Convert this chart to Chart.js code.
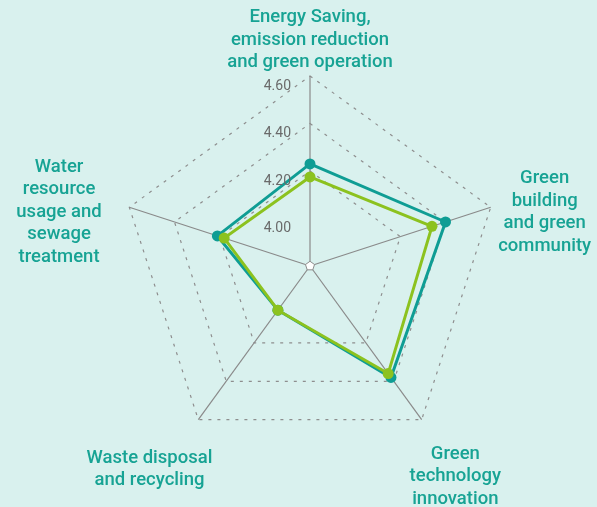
<!DOCTYPE html>
<html>
<head>
<meta charset="utf-8">
<script src="https://cdn.jsdelivr.net/npm/chart.js@4"></script>
<style>
html, body { margin: 0; padding: 0; background: #d9f1ee; }
#wrap { width: 597px; height: 507px; position: relative; }
</style>
</head>
<body>
<div id="wrap"><canvas id="radarChart"></canvas></div>
<script>
const categories = [
    ['Energy Saving,', 'emission reduction', 'and green operation'],
    ['Green', 'building', 'and green', 'community'],
    ['Green', 'technology', 'innovation'],
    ['Waste disposal', 'and recycling'],
    ['Water', 'resource', 'usage and', 'sewage', 'treatment']
];
const tealValues = [4.23, 4.40, 4.38, 4.03, 4.21];
const greenValues = [4.175, 4.34, 4.36, 4.03, 4.18];
const tickValues = [4.00, 4.20, 4.40, 4.60];
const scaleMin = 3.8;
const scaleMax = 4.6;

const TEAL = '#0f9d94';
const GREEN = '#8cc21f';
const LABEL_COLOR = '#17a394';

// draws tick numbers and the centred multi-line category labels
const labelPlugin = {
    id: 'customLabels',
    beforeDatasetsDraw(chart) {
        // white centre ring
        const scale = chart.scales.r;
        const ctx = chart.ctx;
        const r = scale.getDistanceFromCenterForValue(scaleMin + 0.02);
        ctx.save();
        ctx.beginPath();
        categories.forEach((_, i) => {
            const p = scale.getPointPosition(i, r);
            if (i === 0) ctx.moveTo(p.x, p.y); else ctx.lineTo(p.x, p.y);
        });
        ctx.closePath();
        ctx.fillStyle = '#ffffff';
        ctx.fill();
        ctx.strokeStyle = '#8c8c8c';
        ctx.lineWidth = 1;
        ctx.stroke();
        ctx.restore();
    },
    afterDraw(chart) {
        const scale = chart.scales.r;
        const ctx = chart.ctx;
        ctx.save();

        ctx.font = '14px Roboto';
        ctx.fillStyle = '#6a6a6a';
        ctx.textAlign = 'right';
        ctx.textBaseline = 'middle';
        tickValues.forEach(v => {
            const d = scale.getDistanceFromCenterForValue(v);
            ctx.fillText(v.toFixed(2), scale.xCenter - 19, scale.yCenter - d + 10);
        });

        ctx.font = '500 18.5px Roboto';
        ctx.fillStyle = LABEL_COLOR;
        ctx.textAlign = 'center';
        const lh = 22.5;
        categories.forEach((lines, i) => {
            const p = scale.getPointPosition(i, scale.drawingArea + 10);
            const dx = p.x - scale.xCenter;
            const dy = p.y - scale.yCenter;
            const h = lines.length * lh;
            const w = Math.max(...lines.map(l => ctx.measureText(l).width));
            let cx, top;
            if (Math.abs(dx) < 1) {
                cx = p.x;
                top = p.y - h + 8;
            } else if (dy < 0) {
                cx = dx > 0 ? p.x + w / 2 - 2 : p.x - w / 2 - 18;
                top = p.y - h / 2 + 8;
            } else {
                cx = dx > 0 ? p.x + w / 2 - 18 : p.x - w / 2 + 20;
                top = dx > 0 ? p.y + 15 : p.y + 19;
            }
            lines.forEach((line, j) => {
                ctx.fillText(line, cx, top + lh * j + lh / 2);
            });
        });
        ctx.restore();
    }
};

new Chart(document.getElementById('radarChart'), {
    type: 'radar',
    data: {
        labels: categories,
        datasets: [{
            label: 'B',
            data: greenValues,
            borderColor: GREEN,
            backgroundColor: GREEN,
            pointBackgroundColor: GREEN,
            pointBorderColor: GREEN,
            borderWidth: 3,
            pointRadius: 5.5,
            pointBorderWidth: 0,
            fill: false
        }, {
            label: 'A',
            data: tealValues,
            borderColor: TEAL,
            backgroundColor: TEAL,
            pointBackgroundColor: TEAL,
            pointBorderColor: TEAL,
            borderWidth: 3,
            pointRadius: 5.5,
            pointBorderWidth: 0,
            fill: false
        }]
    },
    options: {
        responsive: true,
        maintainAspectRatio: false,
        animation: false,
        layout: { padding: { left: 120, right: 97, top: 76, bottom: 51 } },
        plugins: { legend: { display: false }, tooltip: { enabled: false } },
        scales: {
            r: {
                min: scaleMin,
                max: scaleMax,
                afterBuildTicks: scale => {
                    scale.ticks = tickValues.map(v => ({ value: v }));
                },
                ticks: { display: false },
                pointLabels: { display: false },
                angleLines: { color: '#8a8a8a', lineWidth: 1.2 },
                grid: { color: '#8e8e8e', lineWidth: 1.2 },
                border: { dash: [3, 6] }
            }
        }
    },
    plugins: [labelPlugin]
});
</script>
</body>
</html>
